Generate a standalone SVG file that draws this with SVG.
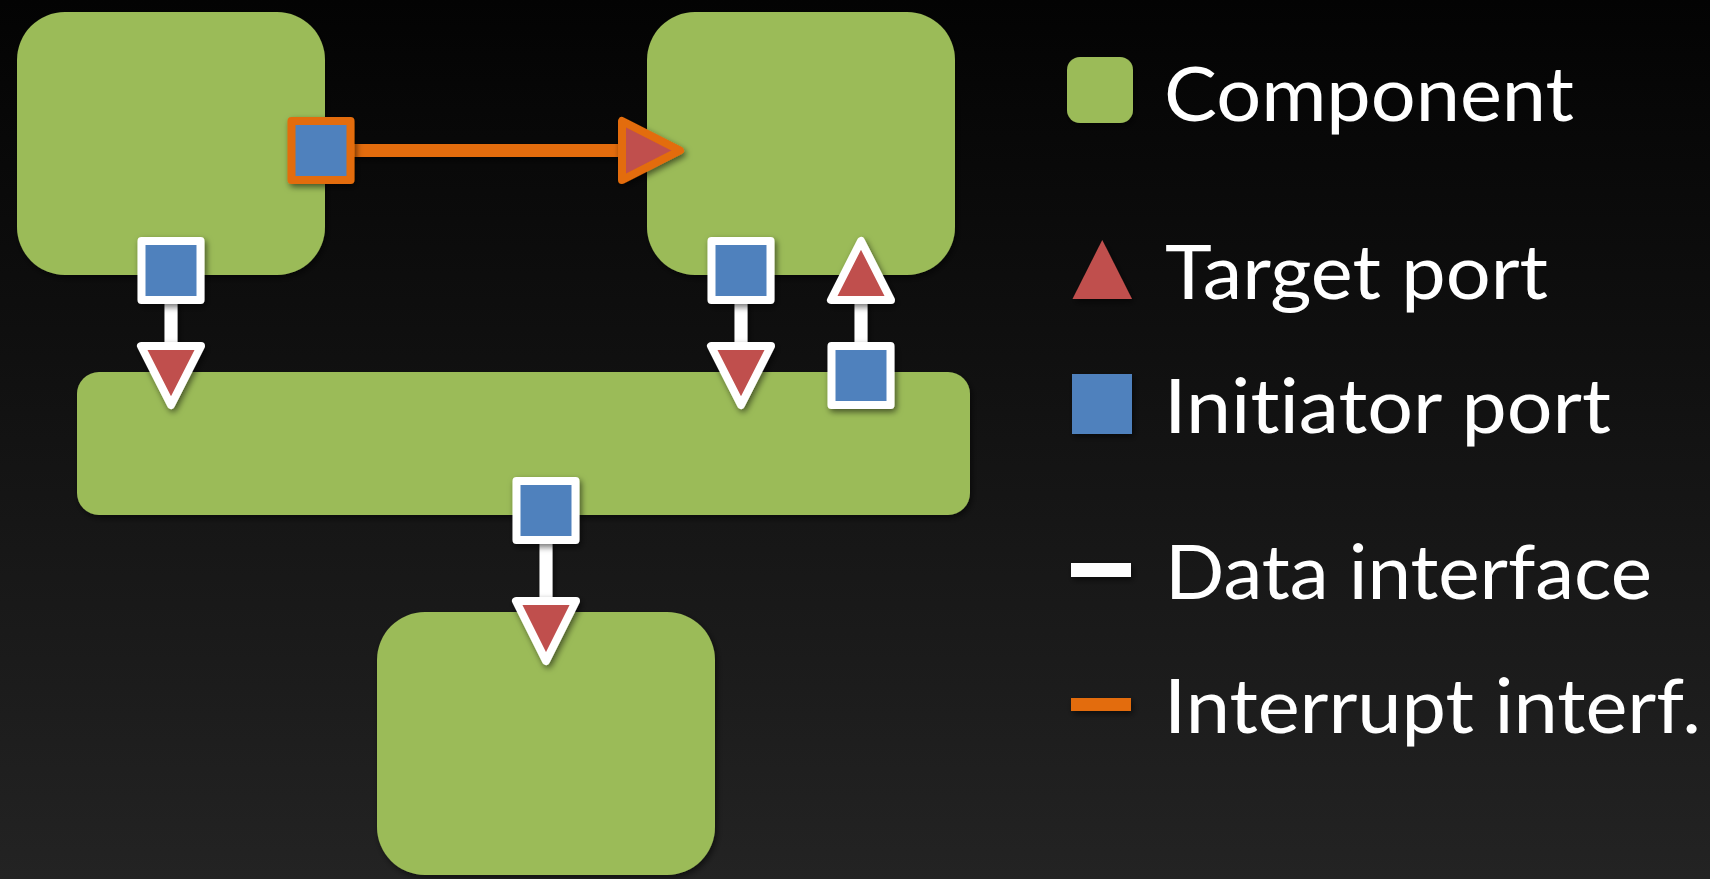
<svg xmlns="http://www.w3.org/2000/svg" width="1710" height="879" viewBox="0 0 1710 879">
<defs>
<linearGradient id="bg" x1="0" y1="0" x2="0" y2="1">
<stop offset="0" stop-color="#030303"/>
<stop offset="1" stop-color="#232323"/>
</linearGradient>
<filter id="sh" filterUnits="userSpaceOnUse" x="0" y="0" width="1710" height="879">
<feDropShadow dx="2" dy="3" stdDeviation="3" flood-color="#000" flood-opacity="0.55"/>
</filter>
<style>
.comp{fill:#9BBB59;filter:url(#sh)}
.ini{fill:#4F81BD;stroke:#fff;stroke-width:8;stroke-linejoin:round;filter:url(#sh)}
.tgt{fill:#C0504D;stroke:#fff;stroke-width:8;stroke-linejoin:round;filter:url(#sh)}
.ini-o{fill:#4F81BD;stroke:#E36C09;stroke-width:8;stroke-linejoin:round;filter:url(#sh)}
.tgt-o{fill:#C0504D;stroke:#E36C09;stroke-width:8;stroke-linejoin:round;filter:url(#sh)}
.data{stroke:#fff;stroke-width:13;fill:none;filter:url(#sh)}
.irq{stroke:#E36C09;stroke-width:13;fill:none;filter:url(#sh)}
.lbl{font-family:Lato,"Open Sans",sans-serif;font-size:75px;fill:#fff;font-variant-ligatures:none}
</style>
</defs>
<rect x="0" y="0" width="1710" height="879" fill="url(#bg)"/>

<g id="comp-top-left"><rect class="comp" x="17" y="12" width="308" height="263" rx="48" ry="48"/></g>
<g id="comp-top-right"><rect class="comp" x="647" y="12" width="308" height="263" rx="48" ry="48"/></g>
<g id="comp-bar"><rect class="comp" x="77" y="372" width="893" height="143" rx="22" ry="22"/></g>
<g id="comp-bottom"><rect class="comp" x="377" y="612" width="338" height="263" rx="48" ry="48"/></g>

<g id="connectors">
<line class="irq" x1="352" y1="150.5" x2="624" y2="150.5"/>
<line class="data" x1="171" y1="300" x2="171" y2="348"/>
<line class="data" x1="741" y1="300" x2="741" y2="348"/>
<line class="data" x1="861" y1="300" x2="861" y2="348"/>
<line class="data" x1="546" y1="541" x2="546" y2="603"/>
</g>

<g id="port-irq-initiator"><rect class="ini-o" x="291.5" y="121" width="59" height="59"/></g>
<g id="port-irq-target"><path class="tgt-o" d="M622,121 L622,180 L680,150.5 Z"/></g>
<g id="port-tl-initiator"><rect class="ini" x="141.5" y="241" width="59" height="59"/></g>
<g id="port-bar-target-left"><path class="tgt" d="M141,346 L201,346 L171,405 Z"/></g>
<g id="port-tr-initiator"><rect class="ini" x="711.5" y="241" width="59" height="59"/></g>
<g id="port-bar-target-right"><path class="tgt" d="M711,346 L771,346 L741,405 Z"/></g>
<g id="port-tr-target"><path class="tgt" d="M831,300 L891,300 L861,241 Z"/></g>
<g id="port-bar-initiator-top"><rect class="ini" x="831.5" y="346" width="59" height="59"/></g>
<g id="port-bar-initiator-bottom"><rect class="ini" x="516.5" y="481" width="59" height="59"/></g>
<g id="port-bottom-target"><path class="tgt" d="M516,601 L576,601 L546,661 Z"/></g>

<g id="legend">
<rect x="1067" y="57" width="66" height="66" rx="13" fill="#9BBB59" filter="url(#sh)"/>
<text class="lbl" x="1164" y="121" textLength="410" lengthAdjust="spacingAndGlyphs">Component</text>
<path d="M1072.5,299 L1132,299 L1102.25,240 Z" fill="#C0504D" filter="url(#sh)"/>
<text class="lbl" x="1165" y="299" textLength="383" lengthAdjust="spacingAndGlyphs">Target port</text>
<rect x="1072" y="374" width="60" height="60" fill="#4F81BD" filter="url(#sh)"/>
<text class="lbl" x="1164" y="433" textLength="447" lengthAdjust="spacingAndGlyphs">Initiator port</text>
<rect x="1071" y="563" width="60" height="14" fill="#fff" filter="url(#sh)"/>
<text class="lbl" x="1165" y="599" textLength="487" lengthAdjust="spacingAndGlyphs">Data interface</text>
<rect x="1071" y="698" width="60" height="13" fill="#E36C09" filter="url(#sh)"/>
<text class="lbl" x="1164" y="733" textLength="537" lengthAdjust="spacingAndGlyphs">Interrupt interf.</text>
</g>
</svg>
